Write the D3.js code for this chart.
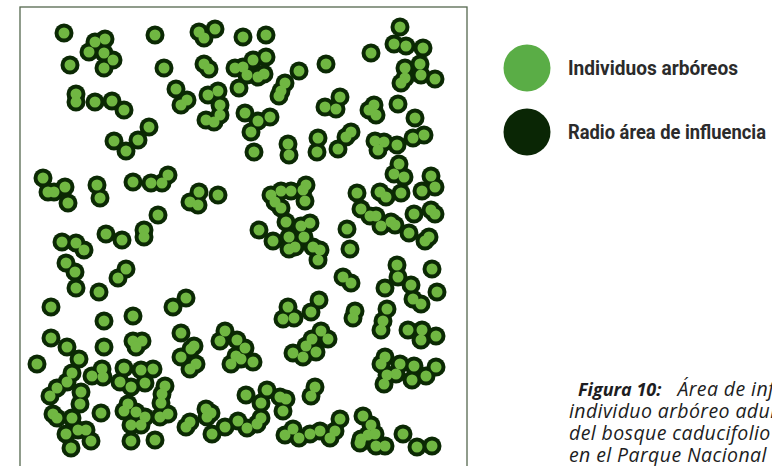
<!DOCTYPE html>
<html>
<head>
<meta charset="utf-8">
<script src="https://cdn.jsdelivr.net/npm/d3@7"></script>
<style>
  html, body { margin: 0; padding: 0; background: #fff; overflow: hidden; }
  svg { display: block; }
</style>
</head>
<body>
<svg width="772" height="466"></svg>
<script>
// tree positions inside the plot (plot units, origin top-left)
var trees = [
  [44,26],[75,35],[85,32],[69,45],[84,46],[93,53],[84,61],[50,58],[135,28],[144,61],[56,87],[56,95],[75,95],[92,94],[104,103],[129,120],[118,133],[94,134],[106,144],
  [179,25],[195,22],[184,31],[223,30],[246,28],[184,57],[189,62],[215,61],[223,60],[227,68],[233,53],[246,50],[238,70],[244,67],[219,81],[279,64],[265,76],[261,84],[259,89],[156,82],[167,93],[161,98],[188,88],[198,84],[200,98],[186,113],[194,115],[200,108],[225,106],[238,114],[250,110],[231,125],[234,145],[268,137],[269,148],[298,131],[297,145],
  [380,20],[374,37],[386,39],[403,41],[351,46],[306,57],[385,61],[400,57],[401,68],[415,72],[385,71],[381,76],[320,90],[305,100],[316,102],[354,98],[349,103],[356,108],[378,97],[395,111],[404,128],[393,131],[331,125],[326,130],[318,142],[355,134],[364,135],[358,143],[377,138],
  [23,171],[28,185],[34,185],[45,180],[48,196],[77,178],[80,191],[113,175],[131,176],[142,176],[148,168],[138,208],[86,227],[102,233],[124,223],[124,230],[42,235],[56,236],[64,243],[46,256],[55,265],[56,281],[79,285],[106,262],[98,271],[31,300],
  [179,185],[170,195],[178,198],[198,188],[251,188],[261,184],[271,184],[283,183],[286,178],[285,194],[255,195],[261,201],[266,215],[281,219],[290,216],[239,223],[253,234],[269,230],[284,230],[269,242],[275,240],[293,240],[300,243],[298,253],[166,291],[153,300],[268,300],[291,305],[299,293],
  [379,157],[374,167],[384,170],[411,169],[415,180],[402,184],[381,186],[337,186],[360,185],[366,190],[341,202],[350,209],[356,209],[361,219],[371,215],[375,218],[389,226],[394,207],[411,203],[415,207],[405,234],[409,230],[327,222],[330,242],[377,258],[378,270],[391,278],[365,281],[412,262],[417,285],[323,270],[331,276],[393,292],[401,297],[367,302],[335,304],[333,311],
  [84,314],[113,309],[31,331],[47,340],[59,352],[84,340],[113,334],[122,334],[116,340],[17,357],[52,366],[47,375],[37,381],[30,389],[61,385],[60,397],[72,369],[82,362],[83,370],[104,361],[100,375],[111,380],[121,363],[133,362],[125,376],[145,379],[142,387],[141,396],[33,407],[37,411],[52,411],[46,427],[58,423],[66,423],[51,441],[71,434],[81,406],[108,397],[104,404],[116,405],[125,410],[111,418],[121,418],[111,434],[135,433],[140,410],[148,407],
  [161,326],[174,339],[171,342],[161,350],[176,357],[170,362],[205,324],[200,334],[217,333],[225,341],[216,349],[221,352],[233,355],[211,357],[263,312],[274,311],[273,346],[283,350],[286,339],[292,332],[296,345],[226,388],[247,383],[241,396],[260,390],[266,392],[263,404],[295,380],[291,389],[186,402],[191,406],[187,410],[170,415],[166,420],[205,420],[218,414],[227,421],[237,417],[241,411],[192,427],[265,428],[273,422],[279,431],[290,427],[300,424],
  [363,314],[361,323],[388,323],[402,323],[401,333],[416,329],[301,324],[308,332],[365,350],[361,357],[380,357],[376,367],[367,368],[364,377],[394,359],[406,369],[392,373],[416,360],[320,412],[315,424],[310,431],[343,409],[351,418],[348,428],[355,427],[341,432],[340,436],[356,439],[365,439],[383,427],[397,440],[412,439]
];

// legend
var legendLabels = ["Individuos arbóreos", "Radio área de influencia"];
var legendColors = ["#5aad46", "#0a2605"];

// caption
var captionBold = "Figura 10:";
var captionLines = ["Área de influencia de cada", "individuo arbóreo adulto", "del bosque caducifolio", "en el Parque Nacional"];

var svg = d3.select("svg");

// scales
var x = d3.scaleLinear().domain([0, 447]).range([20, 467]);
var y = d3.scaleLinear().domain([0, 447]).range([7, 454]);
var r = 9.5, rCore = 5.5;

// plot frame
svg.append("rect")
    .attr("x", x(0)).attr("y", y(0))
    .attr("width", x(447) - x(0)).attr("height", y(475) - y(0))
    .attr("fill", "none")
    .attr("stroke", "#55684f")
    .attr("stroke-width", 1.3);

// influence radius (drawn first so the cores sit on top)
svg.append("g").selectAll("circle")
    .data(trees)
    .enter()
    .append("circle")
    .attr("cx", function(d){ return x(d[0]); })
    .attr("cy", function(d){ return y(d[1]); })
    .attr("r", r)
    .attr("fill", "#0b2904");

// trees
svg.append("g").selectAll("circle")
    .data(trees)
    .enter()
    .append("circle")
    .attr("cx", function(d){ return x(d[0]); })
    .attr("cy", function(d){ return y(d[1]); })
    .attr("r", rCore)
    .attr("fill", "#70b742");

// legend
var legendWidths = [170, 198];
var legend = svg.append("g").selectAll("g")
    .data(legendLabels)
    .enter()
    .append("g")
    .attr("transform", function(d, i){ return "translate(527," + (68 + i * 64) + ")"; });

legend.append("circle")
    .attr("r", 23.5)
    .attr("fill", function(d, i){ return legendColors[i]; });

legend.append("text")
    .attr("x", 41)
    .attr("y", 7)
    .attr("font-family", "'Liberation Sans Narrow', 'Roboto', sans-serif")
    .attr("font-weight", "bold")
    .attr("font-size", 20)
    .attr("fill", "#2b2b2b")
    .attr("textLength", function(d, i){ return legendWidths[i]; })
    .attr("lengthAdjust", "spacingAndGlyphs")
    .text(function(d){ return d; });

// caption
var caption = svg.append("g")
    .attr("font-family", "'Open Sans', 'Noto Sans', sans-serif")
    .attr("font-style", "italic")
    .attr("font-size", 19.5)
    .attr("letter-spacing", 0.4)
    .attr("fill", "#1d1d22");

var first = caption.append("text").attr("x", 578).attr("y", 396);
first.append("tspan")
    .attr("font-weight", "bold")
    .attr("font-size", 18)
    .attr("letter-spacing", 0)
    .text(captionBold);
first.append("tspan").attr("dx", 16).text(captionLines[0]);

caption.selectAll("text.line")
    .data(captionLines.slice(1))
    .enter()
    .append("text")
    .attr("class", "line")
    .attr("x", 569)
    .attr("y", function(d, i){ return 418 + i * 22; })
    .text(function(d){ return d; });
</script>
</body>
</html>
